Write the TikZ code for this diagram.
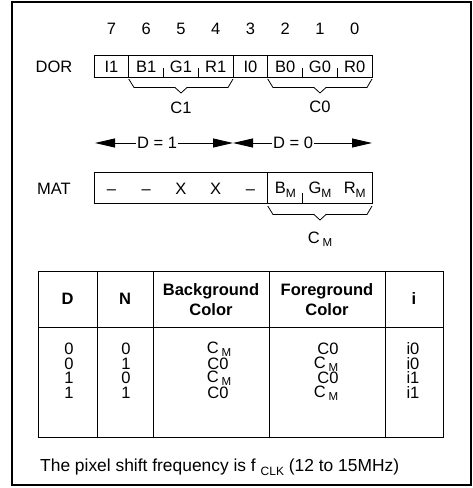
\documentclass[tikz,border=0pt]{standalone}
\usepackage{fontspec}
\setmainfont{Liberation Sans}
\usetikzlibrary{arrows.meta}
\newcommand{\lowsub}[1]{\raisebox{-4pt}{\fontsize{12}{12}\selectfont #1}}
\newcommand{\cmtext}{\raisebox{1pt}{C}\,\raisebox{-2pt}{\fontsize{11.5}{12}\selectfont M}}
\begin{document}
\begin{tikzpicture}[x=1pt,y=-1pt,
  txt/.style={inner sep=0pt, anchor=base, font=\fontsize{16.5}{19}\selectfont},
  hdr/.style={inner sep=0pt, align=center, font=\fontsize{16.5}{20}\selectfont\bfseries},
  frameline/.style={line width=1.4pt},
  boxline/.style={line width=0.9pt},
  bracel/.style={line width=0.8pt, line join=round},
  dimarrow/.style={line width=0.9pt, -{Triangle[length=20pt,width=9pt]}}
]
\useasboundingbox (0,0) rectangle (473,488);
\fill[white] (0,0) rectangle (473,488);
\draw[frameline] (12,2) rectangle (471,485);

% bit numbers
\foreach \b/\x in {7/111.5,6/146.25,5/181,4/215.75,3/250.5,2/285.25,1/320,0/354.75}
  \node[txt] (bit\b) at (\x,34) {\b};

% DOR register
\node[txt] (dor) at (54,72) {DOR};
\draw[boxline] (94,55) rectangle (372,77);
\draw[boxline] (128.75,55) -- (128.75,77);
\draw[boxline] (233,55) -- (233,77);
\draw[boxline] (267.75,55) -- (267.75,77);
\foreach \x in {163.5,198.25,302.5,337.25}
  \draw[boxline] (\x,68) -- (\x,77);
\foreach \n/\t/\x in {c7/I1/111.5,c6/B1/146.25,c5/G1/181,c4/R1/215.75,c3/I0/250.5,c2/B0/285.25,c1/G0/320,c0/R0/354.75}
  \node[txt] (dor\n) at (\x,72) {\t};

% braces C1, C0
\draw[bracel] (128.75,79) -- (134,87.5) -- (175,87.5) -- (181,93) -- (187,87.5) -- (228,87.5) -- (233,79);
\draw[bracel] (267.75,79) -- (273,87.5) -- (314,87.5) -- (320,93) -- (326,87.5) -- (367,87.5) -- (372,79);
\node[txt] (cone) at (181,113) {C1};
\node[txt] (czero) at (320,112) {C0};

% D arrows
\coordinate (l1) at (95,143);
\coordinate (mid) at (233,143);
\coordinate (r0) at (372,143);
\node[inner sep=1pt, font=\fontsize{16.5}{19}\selectfont] (d1) at (157,143) {D = 1};
\node[inner sep=1pt, font=\fontsize{16.5}{19}\selectfont] (d0) at (293,143) {D = 0};
\draw[dimarrow] (d1.west) -- (l1);
\draw[dimarrow] (d1.east) -- (mid);
\draw[dimarrow] (d0.west) -- (mid);
\draw[dimarrow] (d0.east) -- (r0);

% MAT register
\node[txt] (mat) at (54,194) {MAT};
\draw[boxline] (94,172) rectangle (372,203);
\draw[boxline] (267.75,172) -- (267.75,203);
\draw[boxline] (302.5,193) -- (302.5,203);
\foreach \n/\t/\x in {m7/–/111.5,m6/–/146.25,m5/X/181,m4/X/215.75,m3/–/250.5}
  \node[txt] (mat\n) at (\x,194) {\t};
\node[txt] (matbm) at (285.25,193) {B\lowsub{M}};
\node[txt] (matgm) at (320,193) {G\lowsub{M}};
\node[txt] (matrm) at (354.75,193) {R\lowsub{M}};

% brace CM
\draw[bracel] (267.75,206) -- (273,214.5) -- (314,214.5) -- (320,220) -- (326,214.5) -- (367,214.5) -- (372,206);
\node[txt] (cmlabel) at (320,244) {\cmtext};

% table
\draw[boxline] (38,271) rectangle (443,437);
\draw[boxline] (38,327) -- (443,327);
\foreach \x in {97,153,269,385}
  \draw[boxline] (\x,271) -- (\x,437);
\node[hdr] (hd) at (67.5,299) {D};
\node[hdr] (hn) at (125,299) {N};
\node[hdr] (hbg) at (211,300) {Background\\Color};
\node[hdr] (hfg) at (327,300) {Foreground\\Color};
\node[hdr] (hi) at (414,299) {i};

\foreach \r/\yy/\d/\nn/\ii in {1/354.5/0/0/i0,2/369/0/1/i0,3/383.5/1/0/i1,4/398/1/1/i1}{
  \node[txt] (td\r) at (69,\yy) {\d};
  \node[txt] (tn\r) at (126,\yy) {\nn};
  \node[txt] (ti\r) at (413,\yy) {\ii};
}
\node[txt] (tb1) at (219,354.5) {\cmtext};
\node[txt] (tb2) at (218,369) {C0};
\node[txt] (tb3) at (219,383.5) {\cmtext};
\node[txt] (tb4) at (218,398) {C0};
\node[txt] (tf1) at (328,354.5) {C0};
\node[txt] (tf2) at (326,369) {\cmtext};
\node[txt] (tf3) at (328,383.5) {C0};
\node[txt] (tf4) at (326,398) {\cmtext};

% footer
\node[inner sep=0pt, anchor=base west, font=\fontsize{17.4}{20}\selectfont] (foot) at (40,471)
  {The pixel shift frequency is f \lowsub{CLK} (12 to 15MHz)};
\end{tikzpicture}
\end{document}
